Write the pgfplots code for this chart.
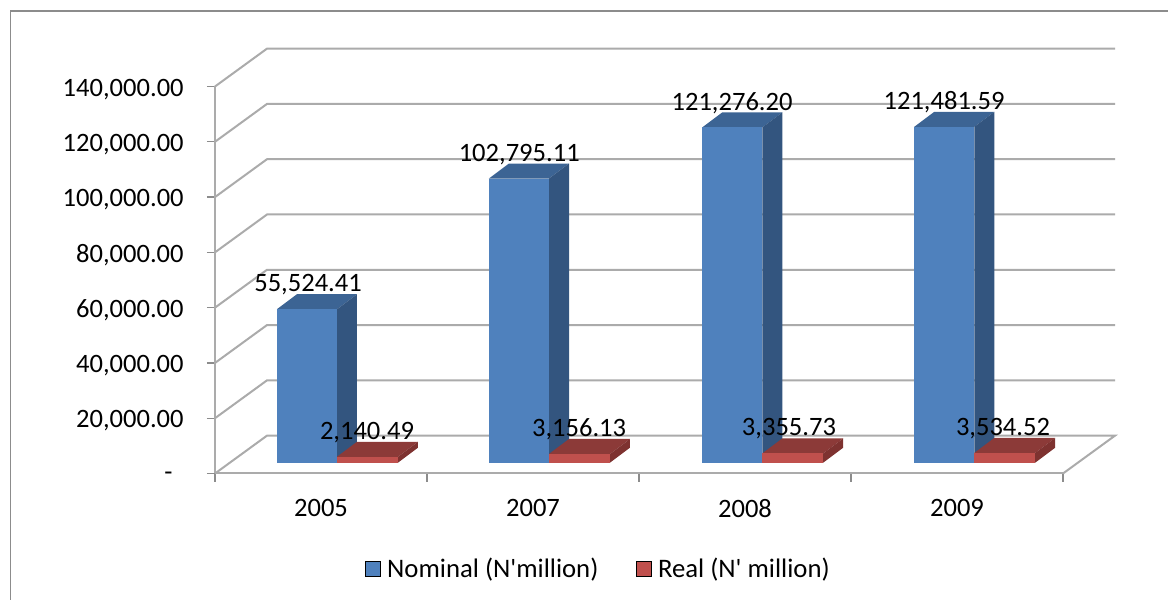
\documentclass[border=0pt]{standalone}
\usepackage{fontspec}
\setmainfont{Carlito}
\usepackage{pgfplots}
\usepackage{pgfplotstable}
\pgfplotsset{compat=1.18}

\definecolor{gridgray}{HTML}{ABABAB}
\definecolor{framegray}{HTML}{8C8C8C}
\definecolor{bluefront}{HTML}{4F81BD}
\definecolor{bluetop}{HTML}{3C6494}
\definecolor{blueside}{HTML}{33557F}
\definecolor{redfront}{HTML}{C0504D}
\definecolor{redtop}{HTML}{8C3A38}
\definecolor{redside}{HTML}{7E3230}

% idx: category position, nx/rx: x of the value labels
\pgfplotstableread{
idx nominal   real    nx      rx
0   55524.41  2140.49 -0.061  0.217
1   102795.11 3156.13 0.9350  1.2175
2   121276.20 3355.73 1.9390  2.2075
3   121481.59 3534.52 2.9390  3.2170
}\values

% 3d bar: x position, value, left edge, right edge, front, top, side colour
\newcommand{\threedbar}[7]{
  \pgfkeys{/pgf/fpu,/pgf/fpu/output format=fixed}
  \pgfmathsetmacro\xl{#1+#3}
  \pgfmathsetmacro\xr{#1+#4}
  \pgfmathsetmacro\xld{#1+#3+0.0943}
  \pgfmathsetmacro\xrd{#1+#4+0.0943}
  \pgfmathsetmacro\yt{#2+3907}
  \pgfmathsetmacro\ytd{#2+9334}
  \pgfkeys{/pgf/fpu=false}
  \addplot[forget plot,draw=none,fill=#6] coordinates {(\xl,\yt) (\xr,\yt) (\xrd,\ytd) (\xld,\ytd)} -- cycle;
  \addplot[forget plot,draw=none,fill=#7] coordinates {(\xr,3907) (\xrd,9334) (\xrd,\ytd) (\xr,\yt)} -- cycle;
  \addplot[forget plot,draw=none,fill=#5] coordinates {(\xl,3907) (\xr,3907) (\xr,\yt) (\xl,\yt)} -- cycle;
}

\begin{document}
\begin{tikzpicture}[x=0.75pt,y=0.75pt]
\path[use as bounding box] (0,0) rectangle (1168,600);
\draw[framegray,line width=1.2pt] (10.5,0) -- (10.5,589) -- (1168,589);
\begin{axis}[
    at={(161.25pt,94.875pt)},
    anchor=south west,
    scale only axis,
    width=636pt,
    height=290.25pt,
    xmin=-0.5, xmax=3.5,
    ymin=0, ymax=140000,
    clip=false,
    axis x line=bottom,
    axis y line=left,
    axis line style={-,gridgray,line width=1.5pt},
    tick style={framegray,line width=1pt},
    tick align=outside,
    major tick length=6pt,
    xtick={-0.5,0.5,1.5,2.5,3.5},
    x tick label as interval,
    xticklabels={2005,2007,2008,2009},
    ytick={0,20000,40000,60000,80000,100000,120000,140000},
    scaled y ticks=false,
    yticklabels={{-\rule{8.25pt}{0pt}},{20,000.00},{40,000.00},{60,000.00},{80,000.00},{100,000.00},{120,000.00},{140,000.00}},
    yticklabel style={xshift=-14pt,yshift=-2pt},
    xticklabel style={yshift=-10pt},
    tick label style={font=\fontsize{19.9pt}{22pt}\selectfont},
    legend columns=2,
    legend style={at={(0.4525,-0.247)},anchor=center,draw=none,fill=none,
      font=\fontsize{20.05pt}{22pt}\selectfont,
      /tikz/every even column/.append style={column sep=26pt}},
    legend image code/.code={\fill[#1] (0pt,-5.6pt) rectangle (11.25pt,5.6pt);\path (14.25pt,0pt);},
  ]
  % back wall and floor
  \addplot[forget plot,gridgray,line width=1.5pt] coordinates {(-0.5,0) (-0.2547,13700) (3.7453,13700) (3.5,0)};
  \addplot[forget plot,gridgray,line width=1.5pt] coordinates {(-0.5,20000) (-0.2547,33700) (3.7453,33700)};
  \addplot[forget plot,gridgray,line width=1.5pt] coordinates {(-0.5,40000) (-0.2547,53700) (3.7453,53700)};
  \addplot[forget plot,gridgray,line width=1.5pt] coordinates {(-0.5,60000) (-0.2547,73700) (3.7453,73700)};
  \addplot[forget plot,gridgray,line width=1.5pt] coordinates {(-0.5,80000) (-0.2547,93700) (3.7453,93700)};
  \addplot[forget plot,gridgray,line width=1.5pt] coordinates {(-0.5,100000) (-0.2547,113700) (3.7453,113700)};
  \addplot[forget plot,gridgray,line width=1.5pt] coordinates {(-0.5,120000) (-0.2547,133700) (3.7453,133700)};
  \addplot[forget plot,gridgray,line width=1.5pt] coordinates {(-0.5,140000) (-0.2547,153700) (3.7453,153700)};

  % bars
  \threedbar{0}{55524.41}{-0.208}{0.0755}{bluefront}{bluetop}{blueside}
  \threedbar{0}{2140.49}{0.0755}{0.363}{redfront}{redtop}{redside}
  \threedbar{1}{102795.11}{-0.208}{0.0755}{bluefront}{bluetop}{blueside}
  \threedbar{1}{3156.13}{0.0755}{0.363}{redfront}{redtop}{redside}
  \threedbar{2.006}{121276.20}{-0.208}{0.0755}{bluefront}{bluetop}{blueside}
  \threedbar{2.006}{3355.73}{0.0755}{0.363}{redfront}{redtop}{redside}
  \threedbar{3.006}{121481.59}{-0.208}{0.0755}{bluefront}{bluetop}{blueside}
  \threedbar{3.006}{3534.52}{0.0755}{0.363}{redfront}{redtop}{redside}

  % value labels
  \pgfplotsset{barlabels/.style={forget plot,only marks,mark=none,
    nodes near coords,
    point meta=explicit,
    every node near coord/.append style={anchor=center,yshift=26.4pt,black,
      font=\fontsize{19.9pt}{22pt}\selectfont,
      /pgf/number format/fixed,
      /pgf/number format/fixed zerofill,
      /pgf/number format/precision=2,
      /pgf/number format/1000 sep={,},
      /pgf/number format/assume math mode=true}}}
  \addplot[barlabels] table[x=nx,y=nominal,meta=nominal] {\values};
  \addplot[barlabels] table[x=rx,y=real,meta=real] {\values};

  \addlegendimage{fill=bluefront}
  \addlegendentry{Nominal (N\textquotesingle million)}
  \addlegendimage{fill=redfront}
  \addlegendentry{Real (N\textquotesingle{} million)}
\end{axis}
\end{tikzpicture}
\end{document}
